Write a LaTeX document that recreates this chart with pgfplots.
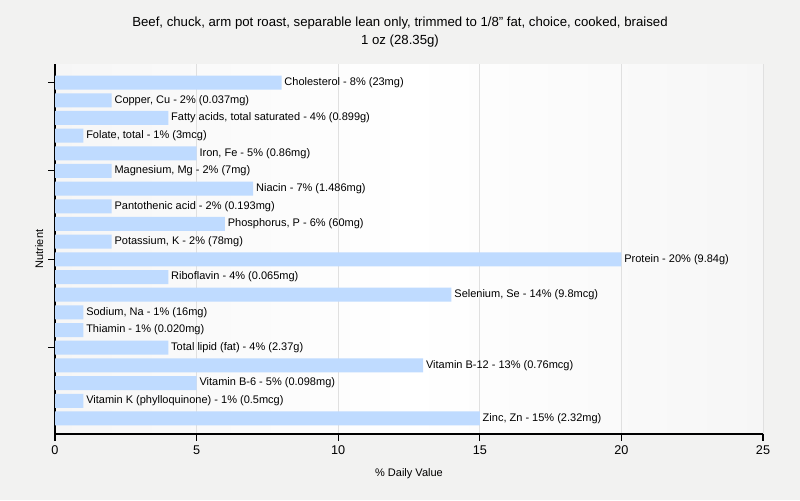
\documentclass[border=0pt]{standalone}
\usepackage{fontspec}
\setmainfont{Liberation Sans}
\usepackage{pgfplots}
\pgfplotsset{compat=1.18}
\definecolor{barblue}{RGB}{191,219,255}
\definecolor{bg}{RGB}{242,242,241}
\definecolor{gridc}{RGB}{224,224,224}
\begin{document}
\begin{tikzpicture}
\fill[bg] (0,0) rectangle (600pt,-375pt);
\node[font=\fontsize{9.9}{12}\selectfont] at (300pt,-17.5pt) {Beef, chuck, arm pot roast, separable lean only, trimmed to 1/8" fat, choice, cooked, braised};
\node[font=\fontsize{9.9}{12}\selectfont] at (300pt,-31pt) {1 oz (28.35g)};
\begin{axis}[
  at={(41.25pt,-325.5pt)}, anchor=south west,
  scale only axis, width=531pt, height=277.5pt,
  xbar, y dir=reverse,
  xmin=0, xmax=25, ymin=-1.05, ymax=19.88,
  bar width=10.5pt,
  axis x line*=bottom, axis y line*=left,
  axis line style={black, line width=0.8pt},
  xtick={0,5,...,25}, ytick={0,5,10,15}, yticklabels={},
  tick align=outside, major tick length=5pt,
  tick style={black, line width=0.8pt},
  xmajorgrids, grid style={gridc, line width=0.6pt},
  axis background/.style={left color=gray!7, right color=gray!7, middle color=white},
  /pgf/number format/assume math mode=true,
  xticklabel style={font=\fontsize{9.5}{11}\selectfont},
  xlabel={\% Daily Value},
  ylabel={Nutrient},
  xlabel style={font=\fontsize{8.25}{10}\selectfont, at={(axis description cs:0.5,0)}, anchor=north, yshift=-22pt},
  ylabel style={font=\fontsize{8.25}{10}\selectfont, at={(axis description cs:-0.01,0.5)}, anchor=south},
  point meta=explicit symbolic,
  nodes near coords,
  every node near coord/.append style={font=\fontsize{8.25}{10}\selectfont, black, inner sep=2pt, anchor=west},
]
\addplot[draw=none, fill=barblue] coordinates {
(8,0) [{Cholesterol - 8\% (23mg)}]
(2,1) [{Copper, Cu - 2\% (0.037mg)}]
(4,2) [{Fatty acids, total saturated - 4\% (0.899g)}]
(1,3) [{Folate, total - 1\% (3mcg)}]
(5,4) [{Iron, Fe - 5\% (0.86mg)}]
(2,5) [{Magnesium, Mg - 2\% (7mg)}]
(7,6) [{Niacin - 7\% (1.486mg)}]
(2,7) [{Pantothenic acid - 2\% (0.193mg)}]
(6,8) [{Phosphorus, P - 6\% (60mg)}]
(2,9) [{Potassium, K - 2\% (78mg)}]
(20,10) [{Protein - 20\% (9.84g)}]
(4,11) [{Riboflavin - 4\% (0.065mg)}]
(14,12) [{Selenium, Se - 14\% (9.8mcg)}]
(1,13) [{Sodium, Na - 1\% (16mg)}]
(1,14) [{Thiamin - 1\% (0.020mg)}]
(4,15) [{Total lipid (fat) - 4\% (2.37g)}]
(13,16) [{Vitamin B-12 - 13\% (0.76mcg)}]
(5,17) [{Vitamin B-6 - 5\% (0.098mg)}]
(1,18) [{Vitamin K (phylloquinone) - 1\% (0.5mcg)}]
(15,19) [{Zinc, Zn - 15\% (2.32mg)}]
};
\end{axis}
\end{tikzpicture}
\end{document}
